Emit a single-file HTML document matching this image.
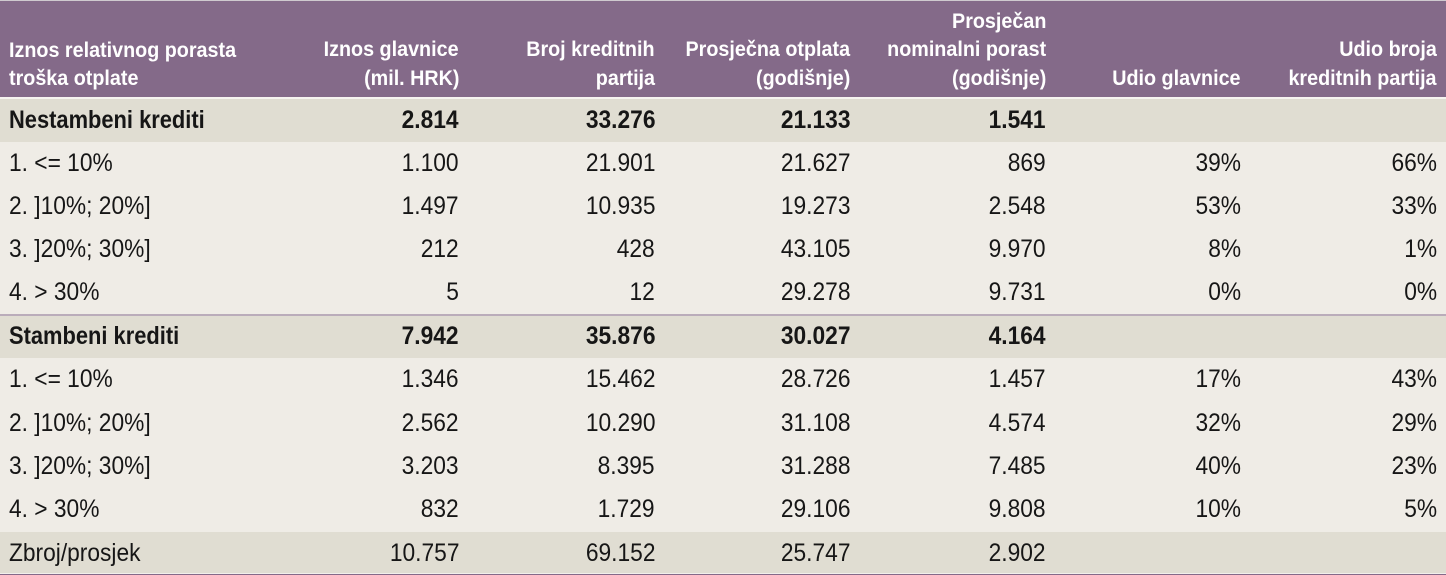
<!DOCTYPE html>
<html>
<head>
<meta charset="utf-8">
<style>
html,body{margin:0;padding:0;}
body{width:1446px;height:575px;position:relative;overflow:hidden;background:#efece6;font-family:"Liberation Sans",sans-serif;}
.bg{position:absolute;left:0;width:1446px;}
.t{position:absolute;white-space:nowrap;line-height:1;}
.h{font-size:21px;font-weight:bold;color:#fff;transform:scaleX(.94);}
.d{font-size:25px;color:#161616;transform:scaleX(.91);}
.bo{font-weight:bold;}
.bl{transform:scaleX(.875);}
.r{transform-origin:right top;}
.l{transform-origin:left top;left:9px;}
</style>
</head>
<body>
<!-- backgrounds -->
<div class="bg" style="top:0;height:1px;background:#cfcacf;"></div>
<div class="bg" style="top:1px;height:96px;background:#846a89;"></div>
<div class="bg" style="top:97px;height:2px;background:#f6f4f0;"></div>
<div class="bg" style="top:99px;height:43px;background:#e0ddd2;"></div>
<div class="bg" style="top:142px;height:172px;background:#efece6;"></div>
<div class="bg" style="top:314px;height:2px;background:#baacba;"></div>
<div class="bg" style="top:316px;height:42px;background:#e0ddd2;"></div>
<div class="bg" style="top:358px;height:174px;background:#efece6;"></div>
<div class="bg" style="top:532px;height:41px;background:#e0ddd2;"></div>
<div class="bg" style="top:573px;height:1px;background:#f2f0ec;"></div>
<div class="bg" style="top:574px;height:1px;background:#846a89;"></div>

<!-- header -->
<div class="t h l" style="top:39.5px;">Iznos relativnog porasta</div>
<div class="t h l" style="top:68.2px;">troška otplate</div>

<div class="t h r" style="right:987px;top:39.3px;">Iznos glavnice</div>
<div class="t h r" style="right:987px;top:68.1px;">(mil. HRK)</div>

<div class="t h r" style="right:791px;top:39.3px;">Broj kreditnih</div>
<div class="t h r" style="right:791px;top:68.1px;">partija</div>

<div class="t h r" style="right:596px;top:39.3px;">Prosječna otplata</div>
<div class="t h r" style="right:596px;top:68.1px;">(godišnje)</div>

<div class="t h r" style="right:400px;top:10.5px;">Prosječan</div>
<div class="t h r" style="right:400px;top:39.3px;">nominalni porast</div>
<div class="t h r" style="right:400px;top:68.1px;">(godišnje)</div>

<div class="t h r" style="right:205px;top:68.1px;">Udio glavnice</div>

<div class="t h r" style="right:9px;top:39.3px;">Udio broja</div>
<div class="t h r" style="right:9px;top:68.1px;">kreditnih partija</div>

<!-- Nestambeni -->
<div class="t d bo bl l" style="top:108.1px;">Nestambeni krediti</div>
<div class="t d bo r" style="right:987px;top:108.1px;">2.814</div>
<div class="t d bo r" style="right:791px;top:108.1px;">33.276</div>
<div class="t d bo r" style="right:596px;top:108.1px;">21.133</div>
<div class="t d bo r" style="right:400px;top:108.1px;">1.541</div>

<div class="t d l" style="top:151.1px;">1. &lt;= 10%</div>
<div class="t d r" style="right:987px;top:151.1px;">1.100</div>
<div class="t d r" style="right:791px;top:151.1px;">21.901</div>
<div class="t d r" style="right:596px;top:151.1px;">21.627</div>
<div class="t d r" style="right:400px;top:151.1px;">869</div>
<div class="t d r" style="right:205px;top:151.1px;">39%</div>
<div class="t d r" style="right:9px;top:151.1px;">66%</div>

<div class="t d l" style="top:194.1px;">2. ]10%; 20%]</div>
<div class="t d r" style="right:987px;top:194.1px;">1.497</div>
<div class="t d r" style="right:791px;top:194.1px;">10.935</div>
<div class="t d r" style="right:596px;top:194.1px;">19.273</div>
<div class="t d r" style="right:400px;top:194.1px;">2.548</div>
<div class="t d r" style="right:205px;top:194.1px;">53%</div>
<div class="t d r" style="right:9px;top:194.1px;">33%</div>

<div class="t d l" style="top:237.1px;">3. ]20%; 30%]</div>
<div class="t d r" style="right:987px;top:237.1px;">212</div>
<div class="t d r" style="right:791px;top:237.1px;">428</div>
<div class="t d r" style="right:596px;top:237.1px;">43.105</div>
<div class="t d r" style="right:400px;top:237.1px;">9.970</div>
<div class="t d r" style="right:205px;top:237.1px;">8%</div>
<div class="t d r" style="right:9px;top:237.1px;">1%</div>

<div class="t d l" style="top:280.1px;">4. &gt; 30%</div>
<div class="t d r" style="right:987px;top:280.1px;">5</div>
<div class="t d r" style="right:791px;top:280.1px;">12</div>
<div class="t d r" style="right:596px;top:280.1px;">29.278</div>
<div class="t d r" style="right:400px;top:280.1px;">9.731</div>
<div class="t d r" style="right:205px;top:280.1px;">0%</div>
<div class="t d r" style="right:9px;top:280.1px;">0%</div>

<!-- Stambeni -->
<div class="t d bo bl l" style="top:323.8px;">Stambeni krediti</div>
<div class="t d bo r" style="right:987px;top:323.8px;">7.942</div>
<div class="t d bo r" style="right:791px;top:323.8px;">35.876</div>
<div class="t d bo r" style="right:596px;top:323.8px;">30.027</div>
<div class="t d bo r" style="right:400px;top:323.8px;">4.164</div>

<div class="t d l" style="top:367.1px;">1. &lt;= 10%</div>
<div class="t d r" style="right:987px;top:367.1px;">1.346</div>
<div class="t d r" style="right:791px;top:367.1px;">15.462</div>
<div class="t d r" style="right:596px;top:367.1px;">28.726</div>
<div class="t d r" style="right:400px;top:367.1px;">1.457</div>
<div class="t d r" style="right:205px;top:367.1px;">17%</div>
<div class="t d r" style="right:9px;top:367.1px;">43%</div>

<div class="t d l" style="top:410.5px;">2. ]10%; 20%]</div>
<div class="t d r" style="right:987px;top:410.5px;">2.562</div>
<div class="t d r" style="right:791px;top:410.5px;">10.290</div>
<div class="t d r" style="right:596px;top:410.5px;">31.108</div>
<div class="t d r" style="right:400px;top:410.5px;">4.574</div>
<div class="t d r" style="right:205px;top:410.5px;">32%</div>
<div class="t d r" style="right:9px;top:410.5px;">29%</div>

<div class="t d l" style="top:453.9px;">3. ]20%; 30%]</div>
<div class="t d r" style="right:987px;top:453.9px;">3.203</div>
<div class="t d r" style="right:791px;top:453.9px;">8.395</div>
<div class="t d r" style="right:596px;top:453.9px;">31.288</div>
<div class="t d r" style="right:400px;top:453.9px;">7.485</div>
<div class="t d r" style="right:205px;top:453.9px;">40%</div>
<div class="t d r" style="right:9px;top:453.9px;">23%</div>

<div class="t d l" style="top:497.2px;">4. &gt; 30%</div>
<div class="t d r" style="right:987px;top:497.2px;">832</div>
<div class="t d r" style="right:791px;top:497.2px;">1.729</div>
<div class="t d r" style="right:596px;top:497.2px;">29.106</div>
<div class="t d r" style="right:400px;top:497.2px;">9.808</div>
<div class="t d r" style="right:205px;top:497.2px;">10%</div>
<div class="t d r" style="right:9px;top:497.2px;">5%</div>

<!-- Zbroj -->
<div class="t d l" style="top:540.5px;">Zbroj/prosjek</div>
<div class="t d r" style="right:987px;top:540.5px;">10.757</div>
<div class="t d r" style="right:791px;top:540.5px;">69.152</div>
<div class="t d r" style="right:596px;top:540.5px;">25.747</div>
<div class="t d r" style="right:400px;top:540.5px;">2.902</div>
</body>
</html>
